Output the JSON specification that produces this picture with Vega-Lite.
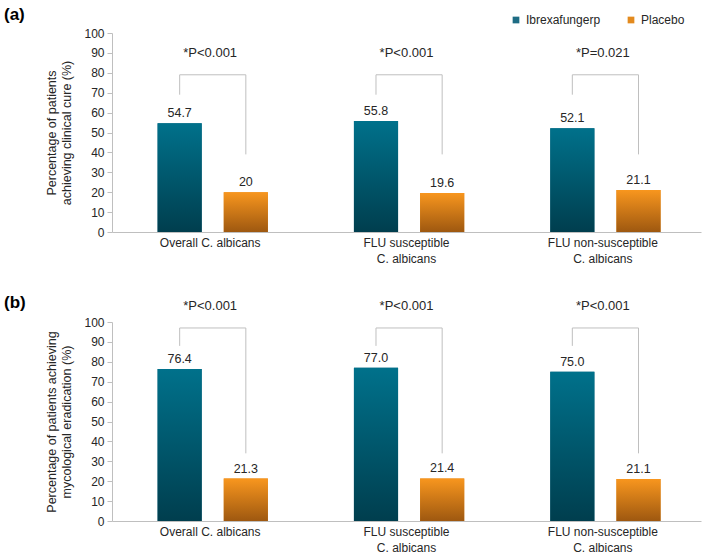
{
  "$schema": "https://vega.github.io/schema/vega-lite/v6.json",
  "background": "white",
  "padding": {"left": 3, "top": 6, "right": 8, "bottom": 2},
  "config": {
    "font": "Liberation Sans",
    "view": {"stroke": null},
    "axis": {"labelFont": "Liberation Sans", "titleFont": "Liberation Sans", "labelColor": "#262626", "titleColor": "#262626", "domainColor": "#BFBFBF", "tickColor": "#BFBFBF", "grid": false, "labelOverlap": false},
    "title": {"font": "Liberation Sans", "fontSize": 17, "fontWeight": "bold", "anchor": "start", "color": "#000000"}
  },
  "spacing": 90,
  "bounds": "flush",
  "datasets": {
    "bars": [
      {"panel": "a", "category": "Overall C. albicans", "series": "Ibrexafungerp", "value": 54.7, "label": "54.7"},
      {"panel": "a", "category": "Overall C. albicans", "series": "Placebo", "value": 20, "label": "20"},
      {"panel": "a", "category": "FLU susceptible|C. albicans", "series": "Ibrexafungerp", "value": 55.8, "label": "55.8"},
      {"panel": "a", "category": "FLU susceptible|C. albicans", "series": "Placebo", "value": 19.6, "label": "19.6"},
      {"panel": "a", "category": "FLU non-susceptible|C. albicans", "series": "Ibrexafungerp", "value": 52.1, "label": "52.1"},
      {"panel": "a", "category": "FLU non-susceptible|C. albicans", "series": "Placebo", "value": 21.1, "label": "21.1"},
      {"panel": "b", "category": "Overall C. albicans", "series": "Ibrexafungerp", "value": 76.4, "label": "76.4"},
      {"panel": "b", "category": "Overall C. albicans", "series": "Placebo", "value": 21.3, "label": "21.3"},
      {"panel": "b", "category": "FLU susceptible|C. albicans", "series": "Ibrexafungerp", "value": 77.0, "label": "77.0"},
      {"panel": "b", "category": "FLU susceptible|C. albicans", "series": "Placebo", "value": 21.4, "label": "21.4"},
      {"panel": "b", "category": "FLU non-susceptible|C. albicans", "series": "Ibrexafungerp", "value": 75.0, "label": "75.0"},
      {"panel": "b", "category": "FLU non-susceptible|C. albicans", "series": "Placebo", "value": 21.1, "label": "21.1"}
    ],
    "brackets": [
      {"panel": "a", "category": "Overall C. albicans", "series": "Ibrexafungerp", "value": 69, "ord": 1},
      {"panel": "a", "category": "Overall C. albicans", "series": "Ibrexafungerp", "value": 79, "ord": 2},
      {"panel": "a", "category": "Overall C. albicans", "series": "Placebo", "value": 79, "ord": 3},
      {"panel": "a", "category": "Overall C. albicans", "series": "Placebo", "value": 39, "ord": 4},
      {"panel": "a", "category": "FLU susceptible|C. albicans", "series": "Ibrexafungerp", "value": 69, "ord": 1},
      {"panel": "a", "category": "FLU susceptible|C. albicans", "series": "Ibrexafungerp", "value": 79, "ord": 2},
      {"panel": "a", "category": "FLU susceptible|C. albicans", "series": "Placebo", "value": 79, "ord": 3},
      {"panel": "a", "category": "FLU susceptible|C. albicans", "series": "Placebo", "value": 39, "ord": 4},
      {"panel": "a", "category": "FLU non-susceptible|C. albicans", "series": "Ibrexafungerp", "value": 69, "ord": 1},
      {"panel": "a", "category": "FLU non-susceptible|C. albicans", "series": "Ibrexafungerp", "value": 79, "ord": 2},
      {"panel": "a", "category": "FLU non-susceptible|C. albicans", "series": "Placebo", "value": 79, "ord": 3},
      {"panel": "a", "category": "FLU non-susceptible|C. albicans", "series": "Placebo", "value": 39, "ord": 4},
      {"panel": "b", "category": "Overall C. albicans", "series": "Ibrexafungerp", "value": 88, "ord": 1},
      {"panel": "b", "category": "Overall C. albicans", "series": "Ibrexafungerp", "value": 97, "ord": 2},
      {"panel": "b", "category": "Overall C. albicans", "series": "Placebo", "value": 97, "ord": 3},
      {"panel": "b", "category": "Overall C. albicans", "series": "Placebo", "value": 34, "ord": 4},
      {"panel": "b", "category": "FLU susceptible|C. albicans", "series": "Ibrexafungerp", "value": 88, "ord": 1},
      {"panel": "b", "category": "FLU susceptible|C. albicans", "series": "Ibrexafungerp", "value": 97, "ord": 2},
      {"panel": "b", "category": "FLU susceptible|C. albicans", "series": "Placebo", "value": 97, "ord": 3},
      {"panel": "b", "category": "FLU susceptible|C. albicans", "series": "Placebo", "value": 34, "ord": 4},
      {"panel": "b", "category": "FLU non-susceptible|C. albicans", "series": "Ibrexafungerp", "value": 88, "ord": 1},
      {"panel": "b", "category": "FLU non-susceptible|C. albicans", "series": "Ibrexafungerp", "value": 97, "ord": 2},
      {"panel": "b", "category": "FLU non-susceptible|C. albicans", "series": "Placebo", "value": 97, "ord": 3},
      {"panel": "b", "category": "FLU non-susceptible|C. albicans", "series": "Placebo", "value": 34, "ord": 4}
    ],
    "ptexts": [
      {"panel": "a", "category": "Overall C. albicans", "value": 91, "text": "*P<0.001"},
      {"panel": "a", "category": "FLU susceptible|C. albicans", "value": 91, "text": "*P<0.001"},
      {"panel": "a", "category": "FLU non-susceptible|C. albicans", "value": 91, "text": "*P=0.021"},
      {"panel": "b", "category": "Overall C. albicans", "value": 108, "text": "*P<0.001"},
      {"panel": "b", "category": "FLU susceptible|C. albicans", "value": 108, "text": "*P<0.001"},
      {"panel": "b", "category": "FLU non-susceptible|C. albicans", "value": 108, "text": "*P<0.001"}
    ]
  },
  "resolve": {"scale": {"color": "shared"}},
  "vconcat": [
    {
      "width": 589,
      "height": 199,
      "title": {"text": "(a)", "dx": -42, "offset": 3},
      "encoding": {
        "x": {"field": "category", "type": "nominal", "sort": ["Overall C. albicans", "FLU susceptible|C. albicans", "FLU non-susceptible|C. albicans"], "scale": {"paddingInner": 0, "paddingOuter": 0}, "axis": {"title": null, "labelAngle": 0, "ticks": false, "labelFontSize": 12, "labelPadding": 5, "labelExpr": "split(datum.label, '|')", "labelLineHeight": 16}},
        "y": {"field": "value", "type": "quantitative", "scale": {"domain": [0, 100]}, "axis": {"values": [0, 10, 20, 30, 40, 50, 60, 70, 80, 90, 100], "labelOverlap": false, "labelFontSize": 12, "tickSize": 5, "labelPadding": 3, "title": ["Percentage of patients", "achieving clinical cure (%)"], "titleFontSize": 12.5, "titleFontWeight": "normal", "titlePadding": 10, "titleLineHeight": 15}}
      },
      "layer": [
        {
          "data": {"name": "bars"},
          "transform": [{"filter": "datum.panel === 'a'"}],
          "mark": {"type": "bar"},
          "encoding": {
            "xOffset": {"field": "series", "type": "nominal", "sort": ["Ibrexafungerp", "Placebo"], "scale": {"paddingInner": 0.333, "paddingOuter": 0.65, "align": 0.53}},
            "color": {"field": "series", "type": "nominal", "sort": ["Ibrexafungerp", "Placebo"], "scale": {"domain": ["Ibrexafungerp", "Placebo"], "range": ["#1E6C84", "#E38A1E"]}, "legend": {"title": null, "orient": "none", "legendX": 398, "legendY": -19, "direction": "horizontal", "symbolType": "square", "symbolSize": 45, "labelFontSize": 12, "labelColor": "#262626", "columnPadding": 24, "symbolStrokeWidth": 0}}
          }
        },
        {
          "data": {"name": "bars"},
          "transform": [{"filter": "datum.panel === 'a' && datum.series === 'Ibrexafungerp'"}],
          "mark": {"type": "bar", "color": {"gradient": "linear", "x1": 0, "y1": 0, "x2": 0, "y2": 1, "stops": [{"offset": 0, "color": "#00718B"}, {"offset": 1, "color": "#003E4E"}]}},
          "encoding": {"xOffset": {"field": "series", "type": "nominal", "sort": ["Ibrexafungerp", "Placebo"]}}
        },
        {
          "data": {"name": "bars"},
          "transform": [{"filter": "datum.panel === 'a' && datum.series === 'Placebo'"}],
          "mark": {"type": "bar", "color": {"gradient": "linear", "x1": 0, "y1": 0, "x2": 0, "y2": 1, "stops": [{"offset": 0, "color": "#F8961E"}, {"offset": 1, "color": "#9E5810"}]}},
          "encoding": {"xOffset": {"field": "series", "type": "nominal", "sort": ["Ibrexafungerp", "Placebo"]}}
        },
        {
          "data": {"name": "bars"},
          "transform": [{"filter": "datum.panel === 'a'"}],
          "mark": {"type": "text", "baseline": "bottom", "dy": -3, "fontSize": 12.5, "color": "#262626"},
          "encoding": {"xOffset": {"field": "series", "type": "nominal", "sort": ["Ibrexafungerp", "Placebo"]}, "text": {"field": "label"}}
        },
        {
          "data": {"name": "brackets"},
          "transform": [{"filter": "datum.panel === 'a'"}],
          "mark": {"type": "line", "color": "#BFBFBF", "strokeWidth": 1},
          "encoding": {"xOffset": {"field": "series", "type": "nominal", "sort": ["Ibrexafungerp", "Placebo"]}, "detail": {"field": "category"}, "order": {"field": "ord"}}
        },
        {
          "data": {"name": "ptexts"},
          "transform": [{"filter": "datum.panel === 'a'"}],
          "mark": {"type": "text", "fontSize": 13, "color": "#262626", "dy": 2},
          "encoding": {"text": {"field": "text"}}
        }
      ]
    },
    {
      "width": 589,
      "height": 199,
      "title": {"text": "(b)", "dx": -42, "offset": -12},
      "encoding": {
        "x": {"field": "category", "type": "nominal", "sort": ["Overall C. albicans", "FLU susceptible|C. albicans", "FLU non-susceptible|C. albicans"], "scale": {"paddingInner": 0, "paddingOuter": 0}, "axis": {"title": null, "labelAngle": 0, "ticks": false, "labelFontSize": 12, "labelPadding": 5, "labelExpr": "split(datum.label, '|')", "labelLineHeight": 16}},
        "y": {"field": "value", "type": "quantitative", "scale": {"domain": [0, 100]}, "axis": {"values": [0, 10, 20, 30, 40, 50, 60, 70, 80, 90, 100], "labelOverlap": false, "labelFontSize": 12, "tickSize": 5, "labelPadding": 3, "title": ["Percentage of patients achieving", "mycological eradication (%)"], "titleFontSize": 12.5, "titleFontWeight": "normal", "titlePadding": 10, "titleLineHeight": 15}}
      },
      "layer": [
        {
          "data": {"name": "bars"},
          "transform": [{"filter": "datum.panel === 'b'"}],
          "mark": {"type": "bar"},
          "encoding": {
            "xOffset": {"field": "series", "type": "nominal", "sort": ["Ibrexafungerp", "Placebo"], "scale": {"paddingInner": 0.333, "paddingOuter": 0.65, "align": 0.53}},
            "color": {"field": "series", "type": "nominal", "sort": ["Ibrexafungerp", "Placebo"], "legend": null}
          }
        },
        {
          "data": {"name": "bars"},
          "transform": [{"filter": "datum.panel === 'b' && datum.series === 'Ibrexafungerp'"}],
          "mark": {"type": "bar", "color": {"gradient": "linear", "x1": 0, "y1": 0, "x2": 0, "y2": 1, "stops": [{"offset": 0, "color": "#00718B"}, {"offset": 1, "color": "#003E4E"}]}},
          "encoding": {"xOffset": {"field": "series", "type": "nominal", "sort": ["Ibrexafungerp", "Placebo"]}}
        },
        {
          "data": {"name": "bars"},
          "transform": [{"filter": "datum.panel === 'b' && datum.series === 'Placebo'"}],
          "mark": {"type": "bar", "color": {"gradient": "linear", "x1": 0, "y1": 0, "x2": 0, "y2": 1, "stops": [{"offset": 0, "color": "#F8961E"}, {"offset": 1, "color": "#9E5810"}]}},
          "encoding": {"xOffset": {"field": "series", "type": "nominal", "sort": ["Ibrexafungerp", "Placebo"]}}
        },
        {
          "data": {"name": "bars"},
          "transform": [{"filter": "datum.panel === 'b'"}],
          "mark": {"type": "text", "baseline": "bottom", "dy": -3, "fontSize": 12.5, "color": "#262626"},
          "encoding": {"xOffset": {"field": "series", "type": "nominal", "sort": ["Ibrexafungerp", "Placebo"]}, "text": {"field": "label"}}
        },
        {
          "data": {"name": "brackets"},
          "transform": [{"filter": "datum.panel === 'b'"}],
          "mark": {"type": "line", "color": "#BFBFBF", "strokeWidth": 1},
          "encoding": {"xOffset": {"field": "series", "type": "nominal", "sort": ["Ibrexafungerp", "Placebo"]}, "detail": {"field": "category"}, "order": {"field": "ord"}}
        },
        {
          "data": {"name": "ptexts"},
          "transform": [{"filter": "datum.panel === 'b'"}],
          "mark": {"type": "text", "fontSize": 13, "color": "#262626"},
          "encoding": {"text": {"field": "text"}}
        }
      ]
    }
  ]
}
